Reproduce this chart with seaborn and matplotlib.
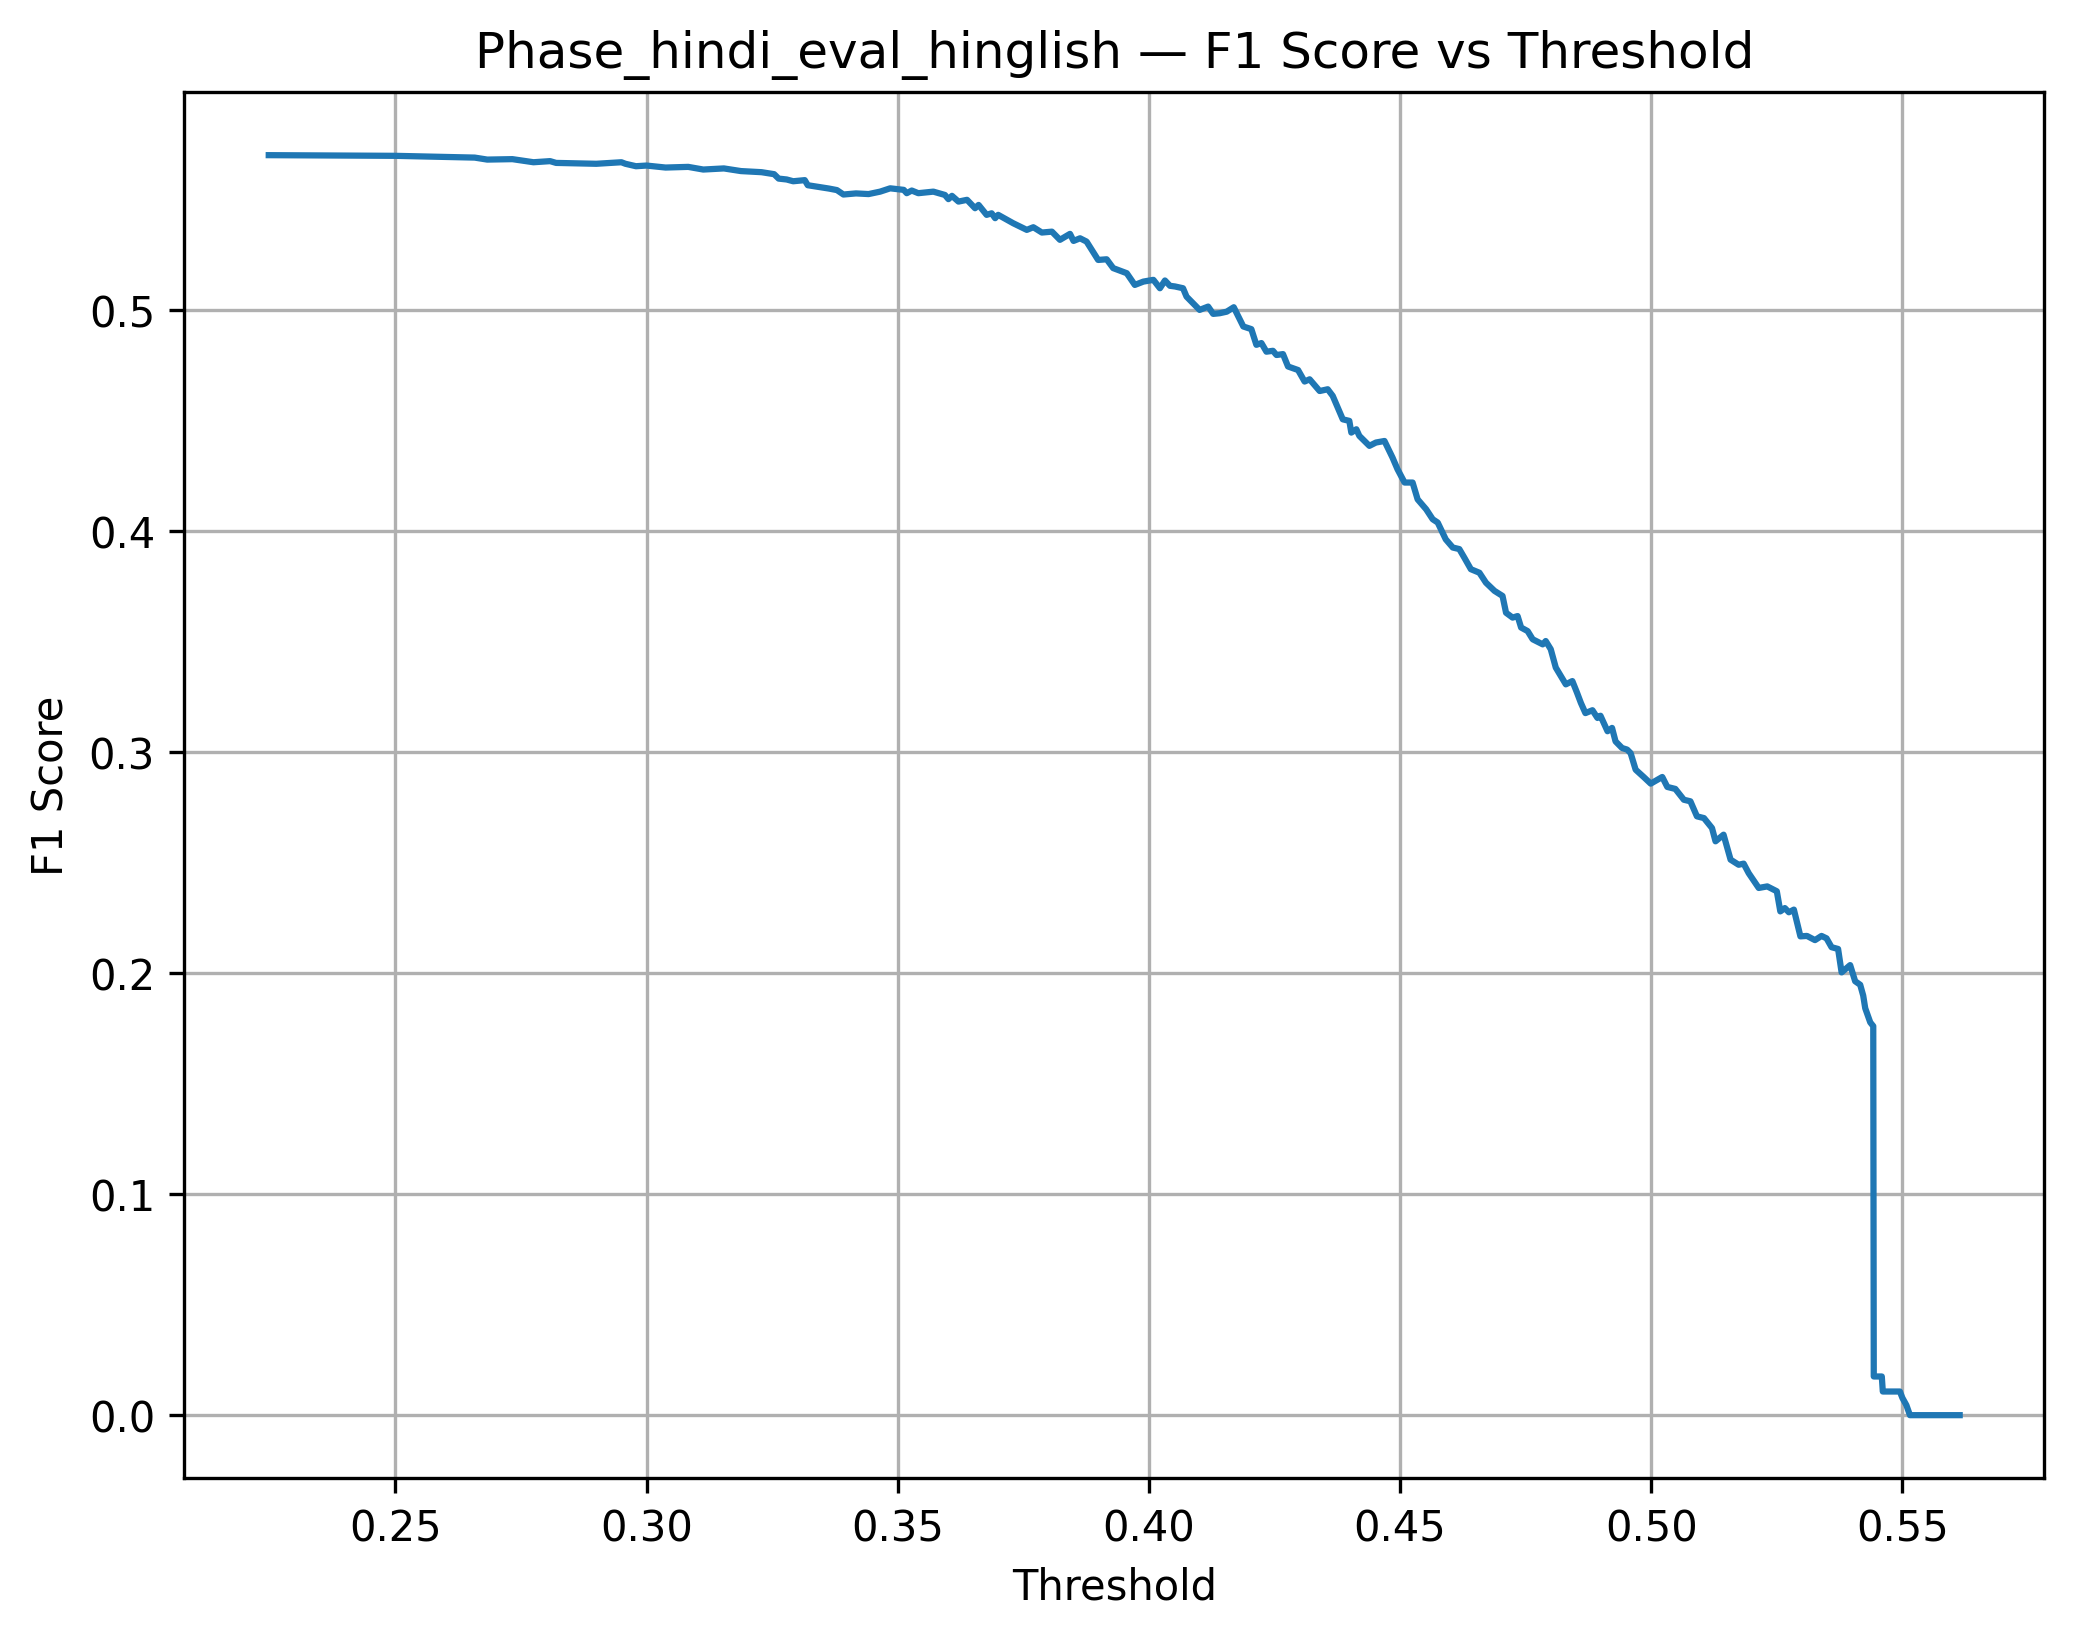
import matplotlib
matplotlib.use("Agg")
import matplotlib.pyplot as plt
import seaborn as sns
import pandas as pd

# F1 score at each decision threshold
thresholds = [
    0.2248, 0.2500, 0.2658, 0.2683, 0.2733, 0.2775, 0.2808, 0.2820, 0.2900, 0.2950,
    0.2958, 0.2979, 0.3000, 0.3038, 0.3083, 0.3113, 0.3154, 0.3188, 0.3229, 0.3254,
    0.3263, 0.3279, 0.3292, 0.3315, 0.3321, 0.3363, 0.3379, 0.3392, 0.3417, 0.3442,
    0.3465, 0.3485, 0.3512, 0.3518, 0.3528, 0.3541, 0.3571, 0.3594, 0.3601, 0.3608,
    0.3621, 0.3638, 0.3654, 0.3661, 0.3677, 0.3687, 0.3694, 0.3700, 0.3730, 0.3757,
    0.3770, 0.3787, 0.3807, 0.3823, 0.3843, 0.3850, 0.3863, 0.3876, 0.3899, 0.3916,
    0.3929, 0.3956, 0.3972, 0.3989, 0.4009, 0.4022, 0.4032, 0.4042, 0.4052, 0.4068,
    0.4075, 0.4101, 0.4118, 0.4128, 0.4141, 0.4155, 0.4169, 0.4188, 0.4204, 0.4214,
    0.4224, 0.4234, 0.4247, 0.4254, 0.4267, 0.4277, 0.4297, 0.4310, 0.4320, 0.4340,
    0.4356, 0.4366, 0.4386, 0.4399, 0.4403, 0.4413, 0.4419, 0.4439, 0.4452, 0.4469,
    0.4485, 0.4495, 0.4509, 0.4525, 0.4535, 0.4552, 0.4565, 0.4575, 0.4591, 0.4605,
    0.4618, 0.4628, 0.4641, 0.4658, 0.4671, 0.4688, 0.4704, 0.4711, 0.4724, 0.4734,
    0.4741, 0.4754, 0.4764, 0.4784, 0.4790, 0.4800, 0.4810, 0.4830, 0.4843, 0.4852,
    0.4860, 0.4869, 0.4883, 0.4893, 0.4899, 0.4913, 0.4922, 0.4929, 0.4942, 0.4952,
    0.4959, 0.4969, 0.4985, 0.4999, 0.5022, 0.5032, 0.5048, 0.5065, 0.5078, 0.5091,
    0.5105, 0.5121, 0.5128, 0.5144, 0.5158, 0.5174, 0.5184, 0.5194, 0.5214, 0.5231,
    0.5250, 0.5257, 0.5266, 0.5274, 0.5284, 0.5297, 0.5310, 0.5326, 0.5339, 0.5349,
    0.5359, 0.5372, 0.5379, 0.5396, 0.5406, 0.5416, 0.5422, 0.5426, 0.5436, 0.5442,
    0.5443, 0.5459, 0.5461, 0.5495, 0.5500, 0.5508, 0.5515, 0.5614,
]
f1_scores = [
    0.5700, 0.5697, 0.5689, 0.5680, 0.5682, 0.5668, 0.5673, 0.5665, 0.5661, 0.5668,
    0.5661, 0.5650, 0.5653, 0.5644, 0.5647, 0.5635, 0.5640, 0.5628, 0.5623, 0.5614,
    0.5594, 0.5590, 0.5582, 0.5587, 0.5564, 0.5549, 0.5542, 0.5522, 0.5527, 0.5524,
    0.5535, 0.5550, 0.5543, 0.5528, 0.5540, 0.5528, 0.5535, 0.5520, 0.5501, 0.5516,
    0.5490, 0.5498, 0.5460, 0.5475, 0.5430, 0.5437, 0.5415, 0.5430, 0.5392, 0.5362,
    0.5374, 0.5350, 0.5354, 0.5317, 0.5344, 0.5312, 0.5324, 0.5309, 0.5226, 0.5229,
    0.5189, 0.5166, 0.5113, 0.5128, 0.5136, 0.5098, 0.5133, 0.5109, 0.5106, 0.5098,
    0.5060, 0.5000, 0.5015, 0.4982, 0.4985, 0.4992, 0.5012, 0.4925, 0.4913, 0.4842,
    0.4850, 0.4811, 0.4815, 0.4796, 0.4800, 0.4744, 0.4728, 0.4676, 0.4686, 0.4633,
    0.4641, 0.4611, 0.4505, 0.4498, 0.4445, 0.4460, 0.4430, 0.4385, 0.4400, 0.4407,
    0.4332, 0.4279, 0.4219, 0.4219, 0.4143, 0.4098, 0.4053, 0.4038, 0.3962, 0.3925,
    0.3918, 0.3879, 0.3827, 0.3811, 0.3766, 0.3729, 0.3706, 0.3630, 0.3608, 0.3615,
    0.3563, 0.3547, 0.3510, 0.3487, 0.3502, 0.3465, 0.3382, 0.3306, 0.3321, 0.3270,
    0.3222, 0.3176, 0.3189, 0.3154, 0.3164, 0.3094, 0.3109, 0.3048, 0.3018, 0.3011,
    0.2995, 0.2920, 0.2887, 0.2857, 0.2887, 0.2842, 0.2833, 0.2784, 0.2777, 0.2709,
    0.2701, 0.2656, 0.2596, 0.2626, 0.2513, 0.2490, 0.2495, 0.2452, 0.2385, 0.2392,
    0.2370, 0.2279, 0.2294, 0.2275, 0.2287, 0.2166, 0.2168, 0.2149, 0.2168, 0.2157,
    0.2117, 0.2109, 0.2003, 0.2036, 0.1963, 0.1947, 0.1898, 0.1841, 0.1777, 0.1760,
    0.0175, 0.0175, 0.0107, 0.0107, 0.0078, 0.0045, 0.0000, 0.0000,
]

df = pd.DataFrame({"threshold": thresholds, "f1": f1_scores})

plt.figure(figsize=(8, 6))
sns.lineplot(data=df, x="threshold", y="f1", estimator=None, sort=False)
plt.title("Phase_hindi_eval_hinglish \u2014 F1 Score vs Threshold")
plt.xlabel("Threshold")
plt.ylabel("F1 Score")
plt.grid(True)
plt.savefig("out.png", dpi=300, bbox_inches="tight")
